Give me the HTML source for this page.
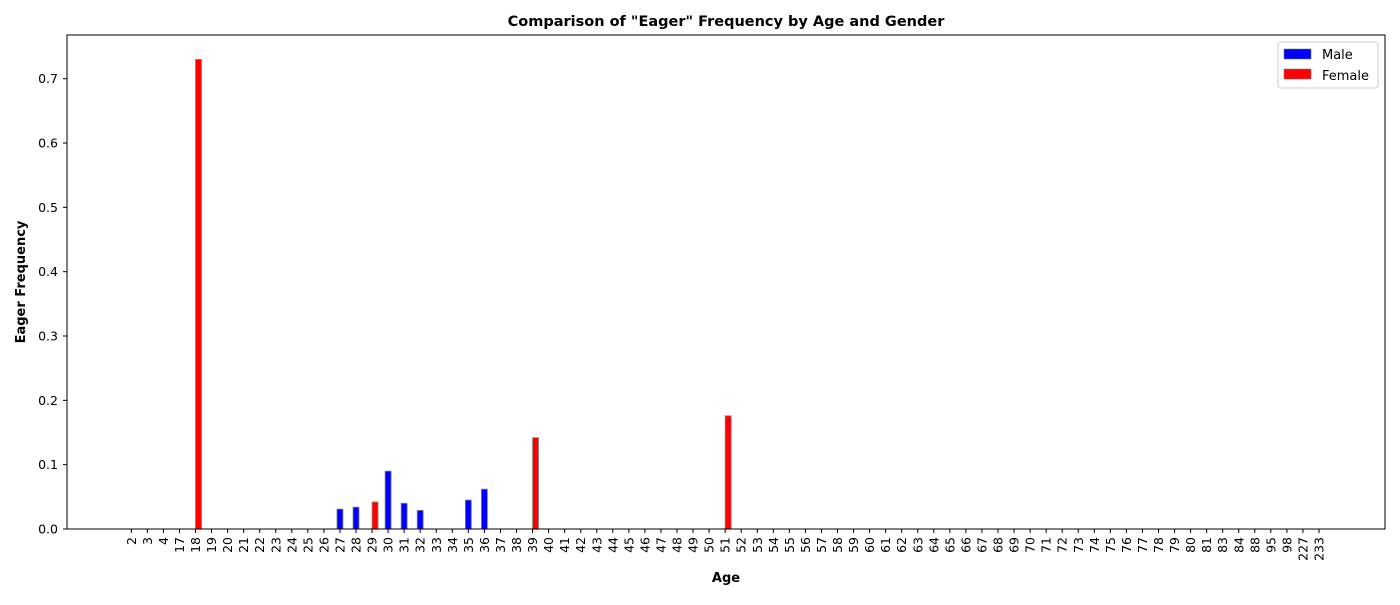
<!DOCTYPE html>
<html><head><meta charset="utf-8"><style>
body{margin:0;background:#fff;font-family:"Liberation Sans","DejaVu Sans",sans-serif;}
svg text{font-family:"DejaVu Sans","Liberation Sans",sans-serif;}
</style></head><body>
<svg id="chart" width="1400" height="600" xmlns="http://www.w3.org/2000/svg">
<rect width="1400" height="600" fill="#fff"/>
<text x="726" y="26" font-size="14.5" font-weight="bold" text-anchor="middle">Comparison of "Eager" Frequency by Age and Gender</text>
<text x="726" y="582" font-size="13" font-weight="bold" text-anchor="middle">Age</text>
<text transform="translate(25,282) rotate(-90)" font-size="13" font-weight="bold" text-anchor="middle">Eager Frequency</text>
<g id="bars"></g>
<g id="xticks"></g>
<g id="yticks"></g>
<rect x="67" y="35" width="1318" height="494" fill="none" stroke="#000" stroke-width="1"/>
<g>
<rect x="1278" y="42" width="100" height="46" rx="3" fill="#fff" stroke="#ccc"/>
<rect x="1284" y="49" width="27" height="10" fill="#0000ff" stroke="#777" stroke-width="0.5"/>
<text x="1322" y="59" font-size="13">Male</text>
<rect x="1284" y="69" width="27" height="10" fill="#ff0000" stroke="#777" stroke-width="0.5"/>
<text x="1322" y="80" font-size="13">Female</text>
</g>
</svg>
<script>
const categories=[2,3,4,17,18,19,20,21,22,23,24,25,26,27,28,29,30,31,32,33,34,35,36,37,38,39,40,41,42,43,44,45,46,47,48,49,50,51,52,53,54,55,56,57,58,59,60,61,62,63,64,65,66,67,68,69,70,71,72,73,74,75,76,77,78,79,80,81,83,84,88,95,98,227,233];
const maleValues={27:0.031,28:0.034,30:0.090,31:0.040,32:0.029,35:0.045,36:0.062};
const femaleValues={18:0.730,29:0.042,39:0.142,51:0.176};
const yTicks=[0,0.1,0.2,0.3,0.4,0.5,0.6,0.7];
const NS="http://www.w3.org/2000/svg";
const x0=131.3,x1=1319,y0=529,yScale=643.3;
function xPos(i){return x0+(x1-x0)*i/(categories.length-1);}
function yPos(v){return y0-v*yScale;}
function mk(tag,attrs,parent){const e=document.createElementNS(NS,tag);for(const k in attrs)e.setAttribute(k,attrs[k]);parent.appendChild(e);return e;}
const bars=document.getElementById('bars'),xt=document.getElementById('xticks'),yt=document.getElementById('yticks');
const bw=6;
categories.forEach((c,i)=>{
  const x=xPos(i);
  const t=mk('line',{x1:x,x2:x,y1:529,y2:533,stroke:'#000'},xt);
  
  
  const lb=mk('text',{transform:`translate(${x+4.5},537) rotate(-90)`,'font-size':'12.5','text-anchor':'end'},xt);
  lb.textContent=c;
  
  
  if(maleValues[c]!==undefined){
    const v=maleValues[c];
    const r=mk('rect',{x:x-bw/2,y:yPos(v),width:bw,height:y0-yPos(v),fill:'#0000ff',stroke:'#888','stroke-width':'0.8'},bars);
    
    
  }
  if(femaleValues[c]!==undefined){
    const v=femaleValues[c];
    const r=mk('rect',{x:x,y:yPos(v),width:bw,height:y0-yPos(v),fill:'#ff0000',stroke:'#888','stroke-width':'0.8'},bars);
    
    
  }
});
yTicks.forEach(v=>{
  const y=yPos(v);
  const t=mk('line',{x1:63,x2:67,y1:y,y2:y,stroke:'#000'},yt);
  
  
  const lb=mk('text',{x:58,y:y+4.5,'font-size':'12.5','text-anchor':'end'},yt);
  lb.textContent=v.toFixed(1);
  
  
});
</script>
</body></html>
